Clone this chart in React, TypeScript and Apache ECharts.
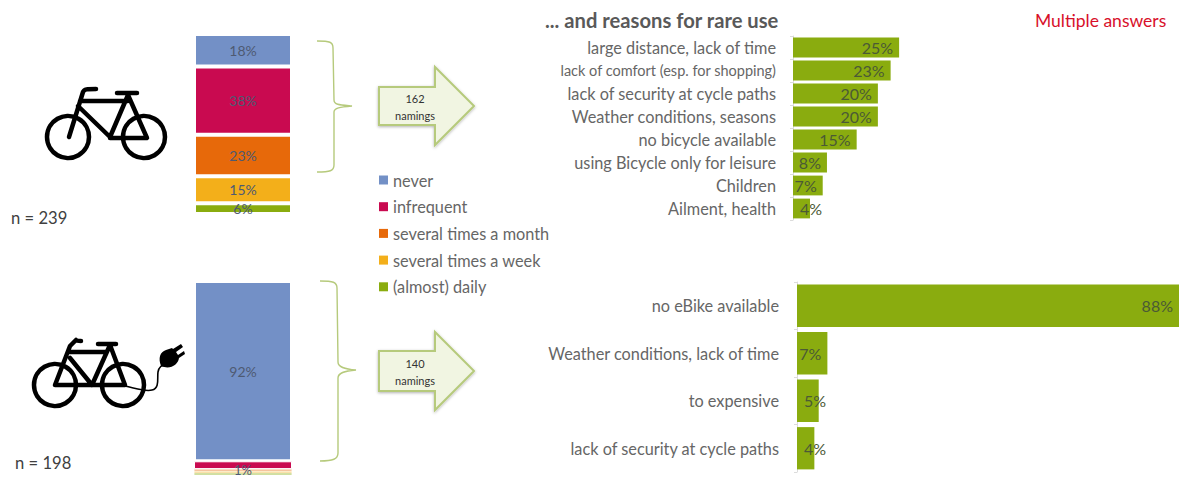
import React, { useEffect, useRef } from "react";
import * as echarts from "echarts";

const statusNames = ["never", "infrequent", "several times a month", "several times a week", "(almost) daily"];
const statusColors = ["#7390c6", "#c90a50", "#e7690a", "#f3af1a", "#8aac0f"];
const bikeShares = [18, 38, 23, 15, 6];
const eBikeShares = [92, 4, 1, 1, 1];
const eBikeLabelled = [true, false, false, true, false];
const bikeReasons = [
  "large distance, lack of time",
  "lack of comfort (esp. for shopping)",
  "lack of security at cycle paths",
  "Weather conditions, seasons",
  "no bicycle available",
  "using Bicycle only for leisure",
  "Children",
  "Ailment, health",
];
const bikeReasonValues = [25, 23, 20, 20, 15, 8, 7, 4];
const eBikeReasons = ["no eBike available", "Weather conditions, lack of time", "to expensive", "lack of security at cycle paths"];
const eBikeReasonValues = [88, 7, 5, 4];

const FONT = "Lato";
const GREY = "#666666";
const LABEL = "#4b5a35";

const BRACE_A = "M317 41 C330 41 333 42 333 48 L334 100 C334 105 340 105 352 106 C340 107 334 108 334 112 L334 165 C334 171 330 172 317 172";
const BRACE_B = "M320 281 C333 281 337 282 337 288 L338 362 C338 367 344 369 356 370 C344 371 338 373 338 378 L338 453 C338 459 333 461 320 461";
const BIKE_A = "M69 137 L83 92 C84 89 87 89 96 89 M80 101 L128 101 M78 106 L110 137 L128 95 L147 138 L110 138 M117 93 L137 93";
const BIKE_B = "M55 385 L70 346 L76 340 C77 341 78 341 81 341 M68 352 L107 352 M70 358 L92 385 L110 345 L125 385 L55 385 M98 344 L116 344";
const CABLE = "M125 386 C135 388 145 392 152 390 C160 388 157 378 158 372 C159 366 163 365 167 363";
const PLUG = "M161 366 C158 358 160 352 166 350 L172 348 L173 349 L181 344 L183 347 L176 352 L178 355 L184 351 L185 354 L179 358 C178 365 170 370 161 366 Z";

echarts.graphic.registerShape("braceA", echarts.graphic.extendPath(BRACE_A, {}));
echarts.graphic.registerShape("braceB", echarts.graphic.extendPath(BRACE_B, {}));
echarts.graphic.registerShape("bikeA", echarts.graphic.extendPath(BIKE_A, {}));
echarts.graphic.registerShape("bikeB", echarts.graphic.extendPath(BIKE_B, {}));
echarts.graphic.registerShape("cable", echarts.graphic.extendPath(CABLE, {}));
echarts.graphic.registerShape("plug", echarts.graphic.extendPath(PLUG, {}));

const text = (x: number, y: number, t: string, size: number, fill: string, align = "left", weight: any = "normal") => ({
  type: "text",
  x,
  y,
  style: { text: t, fontSize: size, fontFamily: FONT, fill, align, verticalAlign: "middle", fontWeight: weight },
});

const wheel = (cx: number, cy: number) => ({
  type: "circle",
  shape: { cx, cy, r: 21 },
  style: { fill: "none", stroke: "#000", lineWidth: 4.5 },
});

const arrow = (mid: number, halfBody: number, halfHead: number) => ({
  type: "polygon",
  shape: {
    points: [
      [379, mid - halfBody],
      [435, mid - halfBody],
      [435, mid - halfHead],
      [474, mid],
      [435, mid + halfHead],
      [435, mid + halfBody],
      [379, mid + halfBody],
    ],
  },
  style: { fill: "#f1f5e2", stroke: "#b6ca7c", lineWidth: 2, shadowBlur: 3, shadowColor: "rgba(0,0,0,0.3)", shadowOffsetY: 1 },
});

const stacked = (values: number[], idx: number, labelled: boolean[] | null) =>
  values.map((v, i) => ({
    name: statusNames[i],
    type: "bar",
    stack: "s" + idx,
    xAxisIndex: idx,
    yAxisIndex: idx,
    barWidth: 98,
    data: [v],
    itemStyle: {
      color: statusColors[i],
      borderColor: "#fff",
      borderWidth: v < 2 ? 0.6 : v < 10 && idx === 1 ? 1 : 2,
    },
    label: {
      show: labelled ? labelled[i] : true,
      position: "inside",
      offset: v < 2 ? [0, -2] : [0, 0],
      formatter: v + "%",
      fontFamily: FONT,
      fontSize: v < 2 ? 13 : 14,
      color: "#4e5a72",
    },
  }));

const hBars = (values: number[], idx: number, gap: string, small: number) => ({
  type: "bar",
  xAxisIndex: idx,
  yAxisIndex: idx,
  barCategoryGap: gap,
  data: values.map((v) => ({
    value: v,
    label: {
      position: v <= small ? "insideLeft" : "insideRight",
      distance: v <= small ? 7 : 6,
    },
  })),
  itemStyle: { color: "#8aac0f" },
  label: {
    show: true,
    formatter: "{c}%",
    fontFamily: FONT,
    fontSize: 16,
    color: LABEL,
  },
});

const hCat = (gridIndex: number, data: string[], margin: number) => ({
  type: "category",
  gridIndex,
  data,
  inverse: true,
  axisLine: { lineStyle: { color: "#dcdcdc" } },
  axisTick: { show: true, length: 3, lineStyle: { color: "#dcdcdc" } },
  axisLabel: {
    color: GREY,
    fontFamily: FONT,
    fontSize: 16.3,
    margin,
    interval: 0,
    formatter: (v: string) => (v.length > 32 ? "{narrow|" + v + "}" : v),
    rich: { narrow: { fontFamily: FONT, fontSize: 14.5, color: GREY } },
  },
});

export default function App() {
  const ref = useRef<HTMLDivElement>(null);
  useEffect(() => {
    const chart = echarts.init(ref.current!, null, { renderer: "svg" });
    chart.setOption({
      animation: false,
      backgroundColor: "#fff",
      legend: {
        data: statusNames,
        orient: "vertical",
        left: 379,
        top: 172,
        padding: 0,
        itemWidth: 9,
        itemHeight: 9,
        itemGap: 10.7,
        itemStyle: { borderWidth: 0 },
        icon: "rect",
        selectedMode: false,
        textStyle: { color: GREY, fontFamily: FONT, fontSize: 16.3, padding: [0, 0, 0, 0], height: 16, lineHeight: 16 },
      },
      grid: [
        { left: 194, top: 34, width: 98, height: 180 },
        { left: 194, top: 281, width: 98, height: 194 },
        { left: 793, top: 36, width: 382, height: 184 },
        { left: 797, top: 282, width: 382, height: 190 },
      ],
      xAxis: [
        { type: "category", gridIndex: 0, data: ["bicycle"], show: false },
        { type: "category", gridIndex: 1, data: ["eBike"], show: false },
        { type: "value", gridIndex: 2, min: 0, max: 90, show: false },
        { type: "value", gridIndex: 3, min: 0, max: 88, show: false },
      ],
      yAxis: [
        { type: "value", gridIndex: 0, min: 0, max: 100, inverse: true, show: false },
        { type: "value", gridIndex: 1, min: 0, max: 99, inverse: true, show: false },
        hCat(2, bikeReasons, 17),
        hCat(3, eBikeReasons, 18),
      ],
      series: [
        ...stacked(bikeShares, 0, null),
        ...stacked(eBikeShares, 1, eBikeLabelled),
        hBars(bikeReasonValues, 2, "14%", 4),
        hBars(eBikeReasonValues, 3, "11%", 5),
      ],
      graphic: [
        { type: "bikeA", style: { fill: "none", stroke: "#000", lineWidth: 4.5, lineCap: "round", lineJoin: "round" } },
        wheel(68, 137),
        wheel(144, 137),
        { type: "bikeB", style: { fill: "none", stroke: "#000", lineWidth: 4.5, lineCap: "round", lineJoin: "round" } },
        wheel(55, 385),
        wheel(123, 385),
        { type: "cable", style: { fill: "none", stroke: "#000", lineWidth: 1.6 } },
        { type: "plug", style: { fill: "#000" } },
        { type: "braceA", style: { fill: "none", stroke: "#b6ca7c", lineWidth: 1.4 } },
        { type: "braceB", style: { fill: "none", stroke: "#b6ca7c", lineWidth: 1.4 } },
        arrow(106, 19, 39),
        arrow(371, 20, 39),
        text(415, 98, "162", 11, "#333", "center"),
        text(415, 115, "namings", 11, "#333", "center"),
        text(415, 363, "140", 11, "#333", "center"),
        text(415, 380, "namings", 11, "#333", "center"),
        text(11, 218, "n = 239", 16.6, "#404040"),
        text(15, 463, "n = 198", 16.6, "#404040"),
        text(545, 20, "... and reasons for rare use", 20.2, "#595959", "left", "bold"),
        text(1035, 20, "Multiple answers", 17.5, "#d8102a"),
      ],
    });
    return () => chart.dispose();
  }, []);
  return <div ref={ref} style={{ position: "absolute", left: 0, top: 0, width: 1179, height: 479 }} />;
}
